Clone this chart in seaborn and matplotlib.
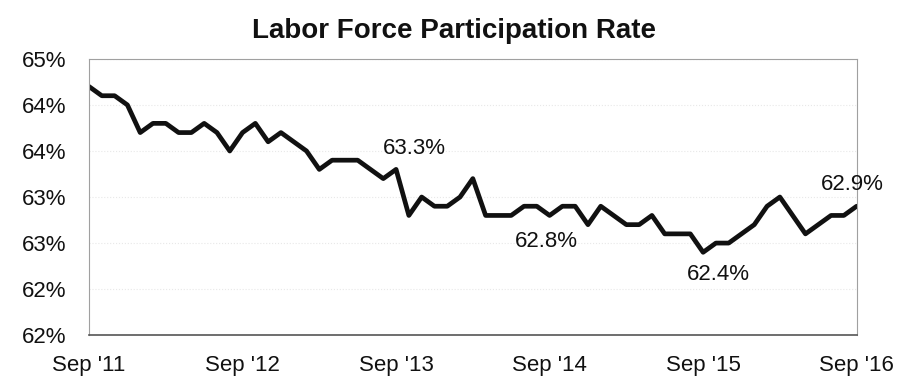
import matplotlib
matplotlib.use("Agg")
import matplotlib.pyplot as plt
import seaborn as sns
import pandas as pd

# ---- data ----
rates = [64.2, 64.1, 64.1, 64.0,
         63.7, 63.8, 63.8, 63.7, 63.7, 63.8, 63.7, 63.5, 63.7, 63.8, 63.6, 63.7,
         63.6, 63.5, 63.3, 63.4, 63.4, 63.4, 63.3, 63.2, 63.3, 62.8, 63.0, 62.9,
         62.9, 63.0, 63.2, 62.8, 62.8, 62.8, 62.9, 62.9, 62.8, 62.9, 62.9, 62.7,
         62.9, 62.8, 62.7, 62.7, 62.8, 62.6, 62.6, 62.6, 62.4, 62.5, 62.5, 62.6,
         62.7, 62.9, 63.0, 62.8, 62.6, 62.7, 62.8, 62.8, 62.9]
x_tick_pos = [0, 12, 24, 36, 48, 60]
x_tick_labels = ["Sep '11", "Sep '12", "Sep '13", "Sep '14", "Sep '15", "Sep '16"]
y_tick_vals = [61.5, 62.0, 62.5, 63.0, 63.5, 64.0, 64.5]
y_tick_labels = ["62%", "62%", "63%", "63%", "64%", "64%", "65%"]
annot_idx = [24, 36, 48, 60]
annot_offsets = [(13, 15), (-2, -19), (11, -16), (-3, 16)]
title = "Labor Force Participation Rate"

df = pd.DataFrame({"month": range(len(rates)), "rate": rates})

sns.set_theme(style="white")
plt.rcParams["font.family"] = ["Liberation Sans", "DejaVu Sans"]

fig = plt.figure(figsize=(9.02, 3.80), dpi=100)
ax = fig.add_axes([0.0987, 0.118, 0.851, 0.727])

sns.lineplot(data=df, x="month", y="rate", ax=ax, color="#111111", linewidth=3.4)

ax.set_xlim(0, 60)
ax.set_ylim(61.5, 64.5)
ax.set_xticks(x_tick_pos)
ax.set_xticklabels(x_tick_labels, fontsize=16)
ax.set_yticks(y_tick_vals)
ax.set_yticklabels(y_tick_labels, fontsize=16)
ax.tick_params(axis="both", length=0, colors="#111111")
ax.tick_params(axis="y", pad=16)
ax.tick_params(axis="x", pad=14)
ax.set_xlabel("")
ax.set_ylabel("")

ax.yaxis.grid(True, color="#e8e8e8", linestyle=":", linewidth=0.8)
ax.set_axisbelow(True)

for side in ["top", "right", "left"]:
    ax.spines[side].set_color("#a0a0a0")
    ax.spines[side].set_linewidth(0.8)
ax.spines["bottom"].set_color("#555555")
ax.spines["bottom"].set_linewidth(1.2)

for i, (dx, dy) in zip(annot_idx, annot_offsets):
    ax.annotate(f"{rates[i]:.1f}%", xy=(i, rates[i]), xytext=(dx, dy),
                textcoords="offset points", ha="center", va="center",
                fontsize=16, color="#111111")

fig.text(0.503, 0.918, title, ha="center", va="center", fontsize=20,
         fontweight="bold", color="#111111")

fig.savefig("out.png", dpi=100)
